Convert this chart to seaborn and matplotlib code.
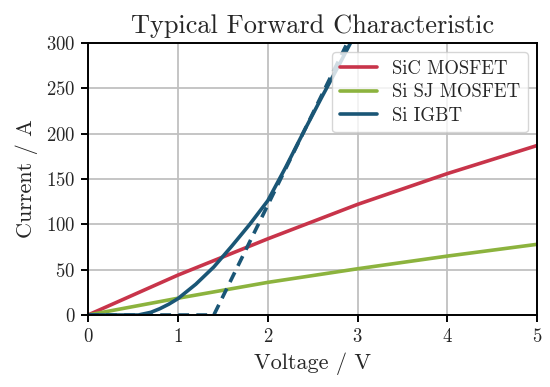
import matplotlib
matplotlib.use("Agg")
import matplotlib.pyplot as plt
import seaborn as sns
import pandas as pd

# Data
sic_v = [0, 1, 2, 3, 4, 5]
sic_i = [0, 44, 84, 122, 156, 187]

sj_v = [0, 1, 2, 3, 4, 5]
sj_i = [0, 18.5, 36, 51, 65, 78]

igbt_v = [0.0, 0.56, 0.7, 0.8, 0.9, 1.0, 1.2, 1.4, 1.6, 1.8, 2.0, 2.2, 2.4, 2.6, 2.8, 3.0]
igbt_i = [0, 0, 3, 7, 12, 18, 34, 53, 76, 100, 126, 163, 202, 240, 277, 315]

igbt_lin_v = [0.0, 1.4, 2.95]
igbt_lin_i = [0, 0, 313]

title = "Typical Forward Characteristic"
xlabel = "Voltage / V"
ylabel = "Current / A"
labels = ["SiC MOSFET", "Si SJ MOSFET", "Si IGBT"]
colors = ["#C8344A", "#8CB33E", "#1A5676"]

sns.set_theme(style="whitegrid")
plt.rcParams["font.family"] = ["cmr10", "DejaVu Serif"]
plt.rcParams["axes.formatter.use_mathtext"] = True
plt.rcParams["mathtext.fontset"] = "cm"

fig = plt.figure(figsize=(5.5, 3.87), dpi=100)
ax = fig.add_axes([0.16, 0.186, 0.817, 0.703])

lw = 2.6
sns.lineplot(x=sic_v, y=sic_i, ax=ax, color=colors[0], lw=lw, label=labels[0])
sns.lineplot(x=sj_v, y=sj_i, ax=ax, color=colors[1], lw=lw, label=labels[1])
sns.lineplot(x=igbt_v, y=igbt_i, ax=ax, color=colors[2], lw=lw, label=labels[2])
sns.lineplot(x=igbt_lin_v, y=igbt_lin_i, ax=ax, color=colors[2], lw=lw,
             linestyle=(0, (3.0, 2.0)), label="_nolegend_")

ax.set_xlim(0, 5)
ax.set_ylim(0, 300)
ax.set_xticks([0, 1, 2, 3, 4, 5])
ax.set_yticks([0, 50, 100, 150, 200, 250, 300])
ax.grid(True, color="#c0c0c0", lw=1.3)
for s in ax.spines.values():
    s.set_color("black")
    s.set_linewidth(1.4)
ax.tick_params(axis="both", which="major", length=5, width=1.4, color="black",
               labelsize=13.5, pad=4, bottom=True, left=True)
ax.set_facecolor("white")

ax.set_title(title, fontsize=19, pad=7)
ax.set_xlabel(xlabel, fontsize=16, labelpad=5)
ax.set_ylabel(ylabel, fontsize=16, labelpad=6)

leg = ax.legend(loc="upper right", fontsize=13.5, frameon=True, framealpha=0.8,
                edgecolor="#cccccc", handlelength=2.0, borderaxespad=0.5,
                labelspacing=0.3)
for line in leg.get_lines():
    line.set_linewidth(lw)

fig.savefig("out.png", dpi=100)
